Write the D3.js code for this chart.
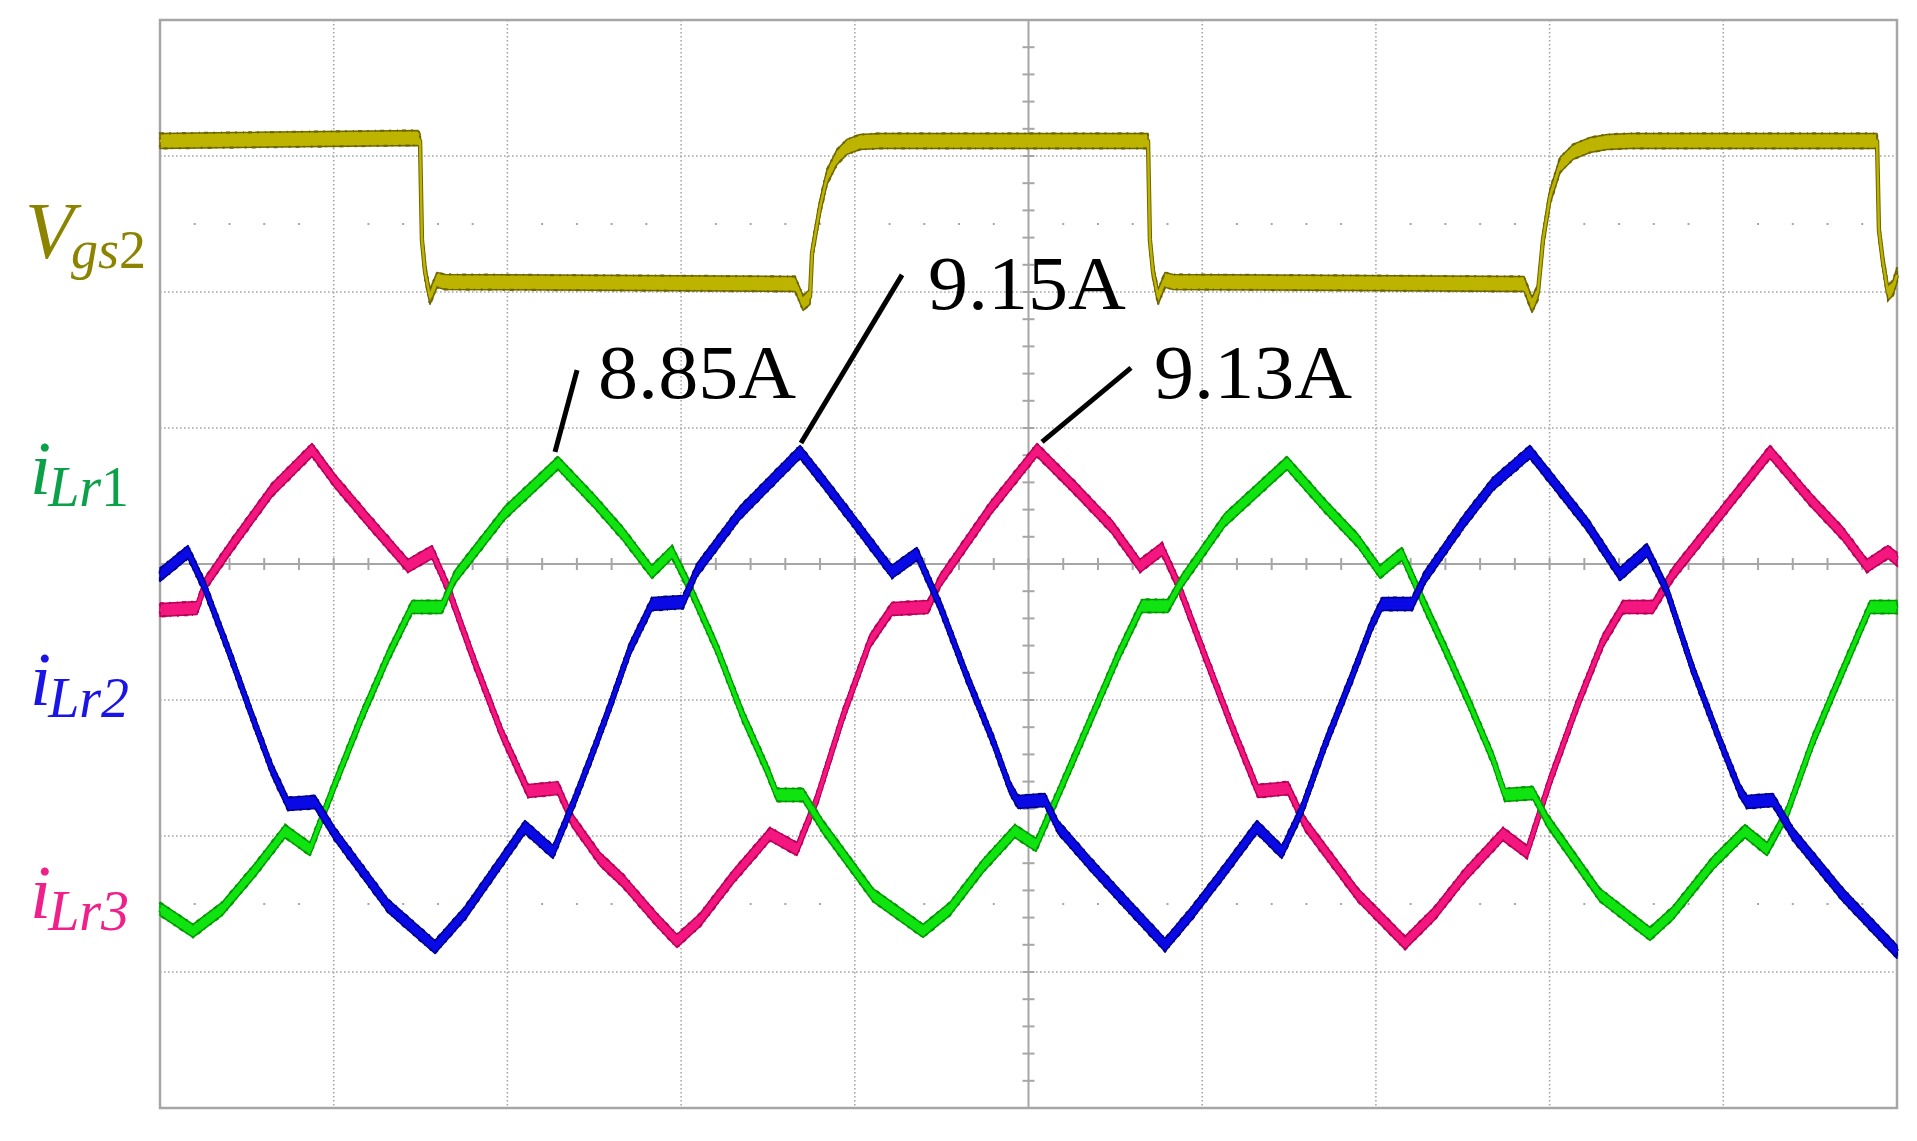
<!DOCTYPE html>
<html><head><meta charset="utf-8">
<script src="https://cdn.jsdelivr.net/npm/d3@7"></script>
<style>html,body{margin:0;padding:0;background:#fff;}svg{display:block;}</style>
</head><body>
<svg id="chart" width="1917" height="1141"></svg>
<script>
// ---------------- data (time in div, current in A, voltage in V) ----------------
const vgs2 = [[0,10.37],[1.485,10.59],[1.497,10.37],[1.508,3.09],[1.526,0.74],[1.554,-1.10],[1.595,0.15],[1.641,0.00],
  [3.656,-0.15],[3.702,-1.54],[3.742,-1.10],[3.754,2.13],[3.800,5.51],[3.840,7.72],[3.898,9.19],[3.955,9.93],[4.030,10.29],[4.145,10.37],
  [5.688,10.37],[5.699,3.09],[5.717,0.74],[5.746,-1.10],[5.786,0.15],[5.832,0.00],
  [7.853,-0.15],[7.899,-1.69],[7.933,-0.74],[7.962,3.09],[8.002,6.25],[8.060,8.60],[8.135,9.56],[8.233,10.07],[8.331,10.29],[8.463,10.37],
  [9.885,10.37],[9.896,3.82],[9.919,1.47],[9.948,-0.81],[9.977,-0.44],[10.0,0.51]];

const iLr1 = [[0,-7.68],[0.190,-8.49],[0.357,-7.68],[0.547,-6.25],[0.720,-4.82],[0.864,-5.48],[1.007,-3.09],[1.163,-0.59],[1.313,1.62],
  [1.451,3.42],[1.623,3.42],[1.698,4.52],[1.986,6.88],[2.291,8.71],[2.406,7.94],[2.504,7.28],[2.666,6.10],[2.832,4.71],[2.948,5.44],
  [3.051,4.12],[3.207,1.88],[3.356,-0.59],[3.495,-2.57],[3.552,-3.49],[3.702,-3.49],[3.817,-4.67],[4.105,-7.17],[4.393,-8.49],
  [4.548,-7.68],[4.738,-6.10],[4.922,-4.82],[5.043,-5.33],[5.170,-3.49],[5.366,-0.59],[5.515,1.62],[5.653,3.46],[5.803,3.46],
  [5.884,4.38],[6.131,6.62],[6.488,8.71],[6.707,7.13],[6.897,5.85],[7.024,4.71],[7.150,5.37],[7.283,3.46],[7.398,1.88],[7.542,-0.18],
  [7.674,-2.17],[7.743,-3.49],[7.904,-3.42],[7.985,-4.41],[8.290,-7.17],[8.578,-8.60],[8.710,-7.83],[8.941,-5.99],[9.125,-4.82],
  [9.252,-5.48],[9.367,-4.15],[9.516,-1.51],[9.672,0.85],[9.845,3.42],[10.0,3.42]];

const iLr2 = [[0,4.60],[0.161,5.44],[0.259,4.12],[0.391,1.88],[0.530,-0.59],[0.645,-2.57],[0.737,-3.82],[0.892,-3.75],[1.007,-4.93],
  [1.313,-7.57],[1.583,-9.08],[1.756,-7.83],[1.946,-6.10],[2.101,-4.67],[2.263,-5.59],[2.389,-3.64],[2.493,-1.91],[2.591,-0.22],
  [2.706,1.88],[2.832,3.53],[3.011,3.60],[3.092,4.78],[3.339,6.88],[3.685,9.12],[3.817,8.05],[3.972,6.76],[4.214,4.71],[4.358,5.37],
  [4.491,3.46],[4.646,0.85],[4.796,-1.51],[4.894,-3.24],[4.940,-3.75],[5.095,-3.68],[5.170,-4.67],[5.366,-6.10],[5.556,-7.43],
  [5.786,-9.01],[5.941,-7.83],[6.131,-6.25],[6.315,-4.67],[6.459,-5.59],[6.575,-4.01],[6.707,-1.65],[6.862,0.85],[6.978,2.79],
  [7.035,3.53],[7.208,3.53],[7.283,4.52],[7.513,6.62],[7.674,7.94],[7.887,9.12],[8.020,8.05],[8.215,6.47],[8.405,4.63],[8.561,5.51],
  [8.676,4.01],[8.826,1.10],[8.981,-1.51],[9.096,-3.35],[9.136,-3.75],[9.286,-3.68],[9.401,-4.93],[9.689,-7.17],[10.0,-9.26]];

const iLr3 = [[0,3.31],[0.213,3.38],[0.259,4.26],[0.415,5.70],[0.645,7.72],[0.875,9.19],[1.007,8.05],[1.197,6.62],[1.428,4.93],
  [1.566,5.44],[1.658,4.12],[1.813,1.36],[1.969,-1.25],[2.119,-3.35],[2.291,-3.24],[2.372,-4.41],[2.533,-5.85],[2.666,-6.65],
  [2.861,-8.09],[2.976,-8.86],[3.109,-8.09],[3.299,-6.51],[3.512,-4.93],[3.667,-5.48],[3.782,-3.64],[3.932,-0.59],[4.088,2.17],
  [4.214,3.35],[4.421,3.42],[4.491,4.38],[4.778,7.02],[5.049,9.19],[5.268,7.79],[5.481,6.36],[5.642,4.93],[5.769,5.55],[5.861,4.26],
  [6.016,1.62],[6.172,-0.99],[6.321,-3.35],[6.494,-3.24],[6.592,-4.56],[6.897,-7.17],[7.168,-8.93],[7.340,-7.83],[7.513,-6.43],
  [7.732,-4.93],[7.870,-5.59],[8.002,-2.98],[8.158,-0.22],[8.307,2.17],[8.423,3.42],[8.595,3.42],[8.710,4.63],[9.021,7.13],
  [9.269,9.12],[9.499,7.39],[9.689,6.10],[9.827,4.93],[9.948,5.44],[10.0,5.18]];

// peak annotations: peak point, leader end, label baseline start (time div, A)
const annotationText = ["8.85A","9.15A","9.13A"];
const annotationPeak = [[2.274,9.12],[3.690,9.45],[5.078,9.49]];
const annotationElbow = [[2.401,12.13],[4.272,15.63],[5.590,12.21]];
const annotationLabel = [[2.522,11.10],[4.421,14.38],[5.723,11.10]];

// ---------------- layout ----------------
const svg = d3.select("#chart");
const F = {left:160, right:1897, top:20, bottom:1108};
const x = d3.scaleLinear().domain([0,10]).range([F.left,F.right]);
const yDiv = d3.scaleLinear().domain([-4,4]).range([F.bottom,F.top]);
const yI = d3.scaleLinear().domain([-15,25]).range([F.bottom,F.top]);      // 5 A/div
const yV = d3.scaleLinear().domain([-60.74,19.26]).range([F.bottom,F.top]); // 10 V/div
const gridCol = "#a6a6a6";

const g = svg.append("g");
const gx = [1,2,3,4,6,7,8,9], gy = [-3,-2,-1,1,2,3];
g.selectAll(".vg").data(gx).join("line").attr("x1",d=>x(d)).attr("x2",d=>x(d)).attr("y1",F.top).attr("y2",F.bottom)
  .attr("stroke",gridCol).attr("stroke-width",1.6).attr("stroke-dasharray","1.6 2.4");
g.selectAll(".hg").data(gy).join("line").attr("y1",d=>yDiv(d)).attr("y2",d=>yDiv(d)).attr("x1",F.left).attr("x2",F.right)
  .attr("stroke",gridCol).attr("stroke-width",1.6).attr("stroke-dasharray","1.6 2.4");
const minorX = d3.range(1,50).map(i=>i*0.2).filter(v=>Math.abs(v-Math.round(v))>1e-6);
[2.5,-2.5].forEach(r=>{
  g.selectAll(null).data(minorX).join("rect").attr("x",d=>x(d)-1).attr("y",yDiv(r)-1).attr("width",2).attr("height",2).attr("fill",gridCol);
});
g.append("line").attr("x1",F.left).attr("x2",F.right).attr("y1",yDiv(0)).attr("y2",yDiv(0)).attr("stroke",gridCol).attr("stroke-width",2);
g.append("line").attr("x1",x(5)).attr("x2",x(5)).attr("y1",F.top).attr("y2",F.bottom).attr("stroke",gridCol).attr("stroke-width",2);
const tx = d3.range(1,50).map(i=>i*0.2), ty = d3.range(1,40).map(i=>-4+i*0.2);
g.selectAll(null).data(tx).join("line").attr("x1",d=>x(d)).attr("x2",d=>x(d)).attr("y1",yDiv(0)-6).attr("y2",yDiv(0)+6).attr("stroke",gridCol).attr("stroke-width",2);
g.selectAll(null).data(ty).join("line").attr("y1",d=>yDiv(d)).attr("y2",d=>yDiv(d)).attr("x1",x(5)-6).attr("x2",x(5)+6).attr("stroke",gridCol).attr("stroke-width",2);
g.append("rect").attr("x",F.left).attr("y",F.top).attr("width",F.right-F.left).attr("height",F.bottom-F.top)
  .attr("fill","none").attr("stroke",gridCol).attr("stroke-width",2.5);

// ---------------- traces ----------------
function trace(data, yS, h, fill, edge, lw){
  const area = d3.area().x(d=>x(d[0])).y0(d=>yS(d[1])+h).y1(d=>yS(d[1])-h);
  const line = d3.line().x(d=>x(d[0])).y(d=>yS(d[1]));
  const tg = svg.append("g");
  tg.append("path").attr("d",line(data)).attr("fill","none").attr("stroke",edge).attr("stroke-width",lw+2).attr("stroke-linejoin","round");
  tg.append("path").attr("d",area(data)).attr("fill",fill).attr("stroke",edge).attr("stroke-width",1.5).attr("stroke-linejoin","round");
  tg.append("path").attr("d",area(data)).attr("fill","none").attr("stroke",edge).attr("stroke-width",2.2).attr("stroke-dasharray","4 5 2 6 1 4");
  tg.append("path").attr("d",line(data)).attr("fill","none").attr("stroke",fill).attr("stroke-width",lw).attr("stroke-linejoin","round");
}
trace(vgs2, yV, 7.5, "#bdb400", "#6e6600", 2.4);
trace(iLr3, yI, 6.5, "#f4177f", "#b8005a", 3.6);
trace(iLr1, yI, 6.5, "#10e410", "#009a00", 3.6);
trace(iLr2, yI, 6.5, "#0a0ae6", "#000090", 3.6);

// ---------------- annotations ----------------
const serif = "'Liberation Serif','Times New Roman',serif";
const ann = svg.append("g");
annotationText.forEach((t,i)=>{
  ann.append("line").attr("x1",x(annotationPeak[i][0])).attr("y1",yI(annotationPeak[i][1]))
    .attr("x2",x(annotationElbow[i][0])).attr("y2",yI(annotationElbow[i][1]))
    .attr("stroke","#000").attr("stroke-width",5);
  ann.append("text").attr("x",x(annotationLabel[i][0])).attr("y",yI(annotationLabel[i][1]))
    .attr("font-family",serif).attr("font-size",76)
    .attr("textLength",198).attr("lengthAdjust","spacingAndGlyphs").attr("fill","#000").text(t);
});

// ---------------- channel labels ----------------
const lab = svg.append("g").attr("font-family",serif);
const vt = lab.append("text").attr("x",25).attr("y",258).attr("fill","#8c8300");
vt.append("tspan").attr("font-size",80).attr("font-style","italic").text("V");
vt.append("tspan").attr("font-size",54).attr("dx",-3).attr("dy",10).attr("font-style","italic").text("gs");
vt.append("tspan").attr("font-size",54).text("2");
const chans = [{n:"1",c:"#0ca048",b:494,italicNum:false},{n:"2",c:"#1a14e6",b:705,italicNum:true},{n:"3",c:"#f0208a",b:918,italicNum:true}];
chans.forEach(ch=>{
  const t = lab.append("text").attr("x",30).attr("y",ch.b).attr("fill",ch.c);
  t.append("tspan").attr("font-size",76).attr("font-style","italic").text("i");
  t.append("tspan").attr("font-size",56).attr("dx",-3).attr("dy",12).attr("font-style","italic").text("Lr");
  t.append("tspan").attr("font-size",56).attr("font-style",ch.italicNum?"italic":"normal").text(ch.n);
});
</script>
</body></html>
